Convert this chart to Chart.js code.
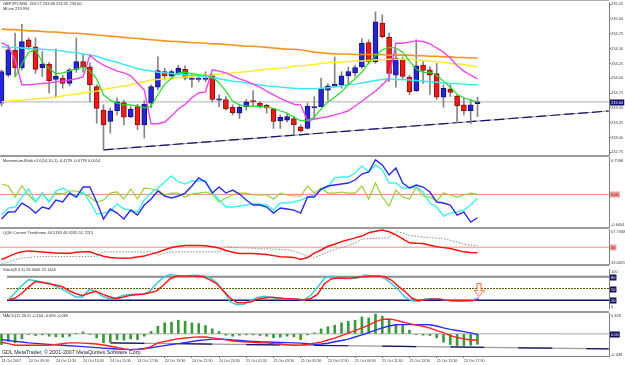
<!DOCTYPE html>
<html><head><meta charset="utf-8">
<script src="https://cdn.jsdelivr.net/npm/chart.js@4.4.1/dist/chart.umd.min.js"></script>
<style>
html,body{margin:0;padding:0;background:#fff;}
#wrap{position:relative;width:625px;height:365px;overflow:hidden;background:#fff;font-family:"Liberation Sans",Arial,sans-serif;}
canvas{position:absolute;left:0;}
.hdr{position:absolute;left:3px;font-size:4px;line-height:5px;color:#303030;white-space:nowrap;z-index:5;}
.sep{position:absolute;left:0;width:609px;height:2px;background:#9a9a9a;z-index:4;}
</style></head><body><div id="wrap">
<canvas id="cMain" width="625" height="161" style="top:-2px"></canvas>
<canvas id="cMom" width="625" height="78" style="top:153px"></canvas>
<canvas id="cQqe" width="625" height="43" style="top:225px"></canvas>
<canvas id="cSto" width="625" height="53" style="top:262px"></canvas>
<canvas id="cMacd" width="625" height="56" style="top:309px"></canvas>
<div class="sep" style="top:0px;height:1px;background:#b0b0b0"></div>
<div class="sep" style="top:155px"></div>
<div class="sep" style="top:227px"></div>
<div class="sep" style="top:264px"></div>
<div class="sep" style="top:311px"></div>
<div class="hdr" style="top:1px">GBPJPY,M30&nbsp; 233.57 233.68 233.35 233.60</div>
<div class="hdr" style="top:6px">MLine 233.994</div>
<div class="hdr" style="top:158px">Momentum-Multi v1.0(14,10,1) -0.4729 -0.0778 0.0014</div>
<div class="hdr" style="top:230px">QQE Current Timeframe 44.5183 46.9245 51.7213</div>
<div class="hdr" style="top:267px">Stoch(8,3,3) 26.3006 22.1455</div>
<div class="hdr" style="top:313px">MACD(12,26,9) -0.164 -0.096 -0.069</div>
<div class="hdr" style="top:349px;left:2px;font-size:5.3px;line-height:6px;color:#202040">GDL MetaTrader, © 2001-2007 MetaQuotes Software Corp.</div>
</div>
<script>
// ---------- DATA ----------
const timeLabels = ['24 Oct 2007','24 Oct 09:30','24 Oct 11:30','24 Oct 13:30','24 Oct 15:30','24 Oct 17:30','24 Oct 19:30','24 Oct 21:30','24 Oct 23:30','25 Oct 01:30','25 Oct 03:30','25 Oct 05:30','25 Oct 07:30','25 Oct 09:30','25 Oct 11:30','25 Oct 13:30','25 Oct 15:30','25 Oct 17:30'];

const open = [233.58,234.05,234.47,234.18,234.65,234.53,234.18,234.24,233.98,234.00,
233.91,234.15,234.28,234.19,233.86,233.46,233.27,233.45,233.59,233.35,
233.52,233.21,233.58,233.85,234.11,234.04,234.08,234.15,233.98,233.98,
233.98,234.04,233.63,233.64,233.51,233.41,233.52,233.62,233.58,233.54,
233.48,233.28,233.29,233.32,233.18,233.15,233.50,233.52,233.80,233.87,
233.89,234.04,234.09,234.19,234.60,234.28,234.93,234.69,234.05,234.32,
234.02,233.79,234.22,234.14,234.08,233.68,233.81,233.70,233.55,233.45,
233.57];
const close = [234.11,234.48,234.18,234.62,234.53,234.15,234.24,233.96,234.03,233.91,
234.14,234.28,234.19,233.89,233.49,233.21,233.45,233.60,233.34,233.48,
233.21,233.56,233.86,234.13,234.04,234.11,234.17,234.00,234.00,234.00,
234.00,233.64,233.65,233.48,233.42,233.51,233.60,233.60,233.52,233.50,
233.27,233.34,233.35,233.21,233.11,233.53,233.52,233.83,233.87,233.90,
234.04,234.11,234.18,234.59,234.28,234.95,234.70,234.08,234.34,234.03,
233.77,234.21,234.13,234.05,233.68,233.83,233.76,233.53,233.45,233.55,
233.60];
const high = [234.14,234.56,234.76,234.91,234.68,234.68,234.45,234.27,234.49,234.05,
234.17,234.68,234.39,234.26,233.89,233.55,233.50,233.67,233.63,233.53,
233.56,233.62,233.89,234.36,234.17,234.14,234.22,234.21,234.08,234.05,
234.11,234.07,233.72,233.69,233.55,233.55,233.64,233.79,233.60,233.56,
233.49,233.38,233.40,233.36,233.21,233.58,233.69,234.00,233.91,234.36,
234.11,234.19,234.22,234.67,234.65,235.12,235.07,234.76,234.48,234.36,
234.05,234.65,234.28,234.19,234.25,233.89,233.89,233.72,233.66,233.64,
233.68];
const low = [233.53,234.02,234.02,234.14,234.48,234.08,234.03,233.75,233.69,233.83,
233.87,234.10,234.10,233.60,233.24,232.79,233.07,233.38,233.21,233.33,
233.13,232.99,233.50,233.80,233.97,234.00,234.05,233.97,233.85,233.94,
233.94,233.60,233.52,233.46,233.38,233.32,233.46,233.52,233.50,233.41,
233.15,233.15,233.26,233.04,233.09,233.14,233.32,233.52,233.63,233.86,
233.83,233.89,234.03,234.17,234.24,234.25,234.68,233.94,233.85,233.97,
233.72,233.77,233.91,233.72,233.64,233.51,233.69,233.25,233.38,233.23,
233.35];

const maOrange = [234.83,234.82,234.82,234.81,234.80,234.80,234.79,234.78,234.78,234.77,
234.76,234.76,234.75,234.74,234.73,234.72,234.71,234.70,234.69,234.68,
234.67,234.66,234.65,234.64,234.63,234.62,234.62,234.61,234.60,234.60,
234.59,234.58,234.58,234.57,234.56,234.55,234.54,234.54,234.53,234.52,
234.51,234.50,234.49,234.49,234.48,234.46,234.44,234.43,234.42,234.41,
234.41,234.41,234.40,234.40,234.40,234.40,234.40,234.39,234.39,234.39,
234.39,234.38,234.38,234.37,234.37,234.36,234.36,234.35,234.35,234.34,
234.34];
const maYellow = [233.60,233.61,233.62,233.63,233.64,233.65,233.66,233.67,233.68,233.70,
233.72,233.73,233.75,233.77,233.78,233.81,233.83,233.85,233.87,233.89,
233.92,233.94,233.97,233.98,233.99,234.00,234.01,234.02,234.03,234.04,
234.05,234.06,234.07,234.08,234.09,234.10,234.11,234.12,234.14,234.15,
234.16,234.17,234.18,234.20,234.21,234.22,234.23,234.25,234.26,234.27,
234.27,234.28,234.29,234.29,234.30,234.31,234.31,234.32,234.32,234.32,
234.32,234.31,234.30,234.29,234.28,234.27,234.25,234.24,234.23,234.21,
234.19];
const maCyan = [234.53,234.52,234.52,234.51,234.50,234.49,234.49,234.48,234.47,234.46,
234.44,234.43,234.41,234.39,234.37,234.33,234.30,234.27,234.23,234.20,
234.16,234.14,234.12,234.10,234.09,234.08,234.07,234.06,234.05,234.04,
234.02,234.01,233.99,233.97,233.95,233.94,233.92,233.90,233.89,233.87,
233.86,233.85,233.84,233.83,233.82,233.82,233.82,233.83,233.84,233.85,
233.87,233.89,233.90,233.92,233.94,233.96,233.98,233.99,233.98,233.98,
233.97,233.96,233.95,233.94,233.93,233.92,233.91,233.91,233.90,233.89,
233.89];
const bandPink = [234.60,234.54,234.31,233.89,233.89,233.90,233.91,233.92,233.94,233.95,
233.97,233.99,234.02,234.39,234.29,234.22,234.17,234.12,234.09,234.04,
233.92,233.80,233.23,233.23,233.26,233.36,233.48,233.56,233.67,233.75,
233.77,234.14,234.12,234.09,234.04,233.99,233.95,233.90,233.85,233.78,
233.72,233.66,233.61,233.56,233.55,233.28,233.31,233.33,233.35,233.38,
233.41,233.45,233.53,233.61,233.70,233.78,233.89,234.00,234.59,234.59,
234.61,234.63,234.62,234.58,234.51,234.44,234.34,234.21,234.12,234.05,
233.99];
const maGreen = [null,null,234.02,234.24,234.44,234.48,234.27,234.17,234.07,234.09,
234.12,234.16,234.19,234.12,233.99,233.72,233.63,233.58,233.55,233.55,
233.53,233.50,233.53,233.72,233.90,234.00,234.09,234.10,234.08,234.06,
234.05,234.02,233.92,233.78,233.61,233.55,233.53,233.53,233.52,233.51,
233.49,233.45,233.41,233.34,233.28,233.29,233.34,233.48,233.60,233.68,
233.77,233.89,233.99,234.10,234.26,234.38,234.48,234.52,234.51,234.44,
234.29,234.15,234.10,234.10,234.05,233.95,233.85,233.73,233.67,233.63,
233.60];
const trendBar = [15, 89.3];
const trendPrice = [232.79, 233.446];

const momBlue = [-0.499,-0.357,-0.351,-0.175,-0.256,-0.378,-0.256,-0.296,-0.114,-0.154,
0.028,-0.053,0.150,0.150,-0.154,-0.499,-0.296,-0.378,-0.499,-0.317,
-0.418,-0.215,-0.093,0.069,-0.032,-0.073,-0.032,0.028,0.171,0.333,
0.252,0.028,0.150,0.028,0.089,0.008,-0.114,-0.215,-0.215,-0.256,
-0.378,-0.276,-0.296,-0.317,-0.378,-0.053,-0.053,0.110,0.171,0.191,
0.211,0.231,0.292,0.414,0.455,0.700,0.597,0.394,0.536,0.231,
0.130,0.191,0.150,0.049,-0.154,-0.175,-0.215,-0.418,-0.357,-0.560,
-0.473];
const momCyan = [-0.418,-0.276,-0.256,-0.053,0.110,-0.154,0.028,-0.154,0.069,0.130,
0.049,-0.053,0.049,-0.154,-0.398,-0.378,-0.337,-0.195,-0.296,-0.317,
-0.357,-0.114,0.028,0.130,0.252,0.374,0.252,0.211,0.272,0.272,
0.272,0.049,-0.114,-0.256,-0.256,-0.235,-0.215,-0.195,-0.195,-0.215,
-0.317,-0.175,-0.175,-0.154,-0.114,-0.053,-0.012,0.089,0.150,0.333,
0.353,0.353,0.434,0.577,0.455,0.597,0.495,0.231,0.231,0.130,
0.130,0.150,0.049,-0.175,-0.256,-0.438,-0.378,-0.357,-0.317,-0.215,
-0.078];
const momYG = [0.211,0.171,-0.053,0.171,-0.012,-0.154,0.028,-0.134,0.028,0.008,
0.069,0.069,0.028,-0.053,-0.154,-0.114,0.028,0.049,-0.093,0.110,
-0.093,0.130,0.110,0.089,-0.012,0.028,0.028,-0.053,0.008,0.028,
0.049,0.008,-0.154,-0.073,-0.012,0.028,0.028,-0.012,-0.012,-0.012,
-0.093,0.028,-0.012,-0.032,-0.032,0.171,0.028,0.130,0.028,0.028,
0.049,0.028,0.028,0.171,-0.093,0.231,-0.053,-0.235,0.089,-0.053,
-0.093,0.150,-0.032,-0.053,-0.134,0.028,-0.012,-0.053,-0.012,0.028,
0.001];
const momRange = [-0.6604, 0.7588];
const momLevels = [0];

const qqeRed = [37.94,40.82,43.70,45.63,46.40,45.82,45.34,44.86,44.38,43.99,
44.19,45.15,45.44,45.44,43.22,41.11,39.86,39.38,39.19,39.57,
40.53,41.49,43.22,45.15,47.55,49.76,50.92,51.59,51.59,51.59,
51.30,50.43,49.18,46.78,45.15,43.90,43.90,43.90,43.42,42.94,
41.78,40.63,40.34,40.05,38.13,39.86,44.19,47.26,50.92,52.84,
55.43,57.16,59.09,60.82,64.18,65.53,66.80,65.05,61.97,58.13,
54.28,53.80,53.51,51.88,50.34,49.57,48.70,47.07,45.44,44.86,
44.52];
const qqeGray = [33.61,35.53,37.94,39.38,39.86,40.63,40.82,40.82,40.82,40.82,
40.82,40.82,40.82,40.82,41.30,45.44,45.44,45.44,45.44,45.44,
45.44,45.44,45.44,42.26,44.19,45.15,45.44,45.44,45.44,45.44,
45.44,45.44,45.44,50.43,49.67,49.38,49.18,48.99,48.70,48.42,
48.13,47.84,47.45,46.11,43.90,41.30,39.86,42.26,45.44,47.55,
49.76,51.40,53.80,57.93,58.32,58.61,58.90,59.28,65.34,63.89,
61.49,60.72,59.86,59.28,58.80,58.32,56.68,55.05,52.84,51.88,
51.72];
const qqeRange = [33.6055, 67.7368];
const qqeLevels = [50];

const stoMain = [20.7,40.0,57.8,72.7,69.6,66.7,64.4,55.6,47.8,38.9,
28.2,28.2,46.7,42.9,30.0,24.4,25.6,31.8,34.4,35.6,
35.6,42.2,62.2,77.8,86.0,83.3,80.0,83.3,83.8,82.9,
77.8,64.4,43.3,15.6,8.2,9.6,18.9,26.7,30.4,27.3,
24.9,23.8,22.9,22.2,20.7,33.3,53.3,76.7,82.2,77.8,
75.6,75.6,76.7,84.4,82.2,82.2,75.6,62.2,46.7,27.8,
18.4,17.1,23.3,24.4,22.9,20.7,18.4,17.1,18.4,20.7,
26.3];
const stoSignal = [20.7,25.6,37.8,54.4,67.8,65.6,62.2,58.9,54.4,44.9,
36.7,32.2,37.8,42.9,35.6,28.9,24.4,27.8,31.8,33.8,
35.1,38.9,43.3,57.8,74.4,82.2,82.2,82.2,81.5,80.0,
72.2,62.2,43.3,25.6,13.3,13.3,15.6,22.7,25.6,27.8,
26.2,24.4,23.6,22.7,20.7,24.4,35.6,62.2,74.4,76.7,
76.2,77.1,78.9,80.0,82.2,82.2,80.0,71.1,55.6,42.2,
25.6,18.9,21.1,22.7,22.9,20.7,18.9,18.4,18.4,18.4,
22.1];
const stoRange = [0, 100];
const stoLevels = [80, 50, 20];
const stoArrow = {bar: 70, value: 46};

const macdHist = [-0.168,-0.115,-0.141,-0.079,-0.010,-0.026,-0.016,-0.037,-0.047,-0.052,
-0.037,0.005,0.031,-0.005,-0.063,-0.141,-0.131,-0.089,-0.100,-0.079,
-0.089,-0.037,0.037,0.120,0.173,0.183,0.215,0.199,0.173,0.162,
0.131,0.079,0.037,-0.021,-0.037,-0.021,-0.016,-0.016,-0.026,-0.037,
-0.063,-0.052,-0.037,-0.047,-0.089,-0.016,0.016,0.079,0.110,0.136,
0.173,0.199,0.215,0.267,0.251,0.310,0.278,0.215,0.147,0.131,
0.058,-0.010,-0.021,-0.026,-0.063,-0.131,-0.168,-0.183,-0.183,-0.178,
-0.164];
const macdRed = [-0.132,-0.153,-0.179,-0.179,-0.179,-0.179,-0.179,-0.179,-0.168,-0.153,
-0.142,-0.142,-0.145,-0.151,-0.160,-0.176,-0.195,-0.215,-0.236,-0.247,
-0.244,-0.236,-0.200,-0.142,-0.121,-0.097,-0.079,-0.066,-0.055,-0.047,
-0.050,-0.063,-0.079,-0.094,-0.113,-0.121,-0.129,-0.134,-0.140,-0.142,
-0.153,-0.160,-0.171,-0.179,-0.176,-0.168,-0.145,-0.129,-0.097,-0.066,
-0.027,0.013,0.052,0.094,0.138,0.193,0.228,0.233,0.217,0.186,
0.162,0.138,0.119,0.091,0.052,0.020,-0.027,-0.058,-0.079,-0.097,
-0.096];
const macdBlue = [-0.090,-0.105,-0.118,-0.129,-0.142,-0.149,-0.157,-0.165,-0.171,-0.179,
-0.187,-0.193,-0.201,-0.209,-0.217,-0.225,-0.231,-0.239,-0.244,-0.247,
-0.242,-0.231,-0.219,-0.200,-0.184,-0.168,-0.153,-0.137,-0.121,-0.105,
-0.094,-0.082,-0.079,-0.086,-0.097,-0.105,-0.112,-0.118,-0.124,-0.127,
-0.132,-0.135,-0.138,-0.142,-0.146,-0.156,-0.165,-0.160,-0.148,-0.124,
-0.104,-0.082,-0.050,-0.016,0.020,0.060,0.094,0.123,0.143,0.146,
0.146,0.146,0.146,0.143,0.123,0.094,0.071,0.052,0.036,0.016,
-0.010];
const macdRange = [-0.348, 0.328];
const macdLevels = [0];
const macdTrendBar = [16, 89.3];
const macdTrendVal = [-0.142, -0.236];

// ---------- HELPERS ----------
const X_MIN = -0.22, X_MAX = 89.34;
const FONT = '"Liberation Sans", Arial, sans-serif';
const idx = open.map((_, i) => i);
const pts = arr => arr.map((v, i) => ({x: i, y: v}));
const hline = v => [{x: X_MIN, y: v}, {x: X_MAX, y: v}];
const seg = (xs, ys) => xs.map((x, k) => ({x: x, y: ys[k]}));

const mtLabels = {
  id: 'mtLabels',
  afterDraw(chart, args, opts) {
    const items = opts.items || [];
    const {ctx, chartArea} = chart;
    const ys = chart.scales.y;
    ctx.save();
    ctx.font = '4px ' + FONT;
    ctx.textBaseline = 'middle';
    ctx.textAlign = 'left';
    for (const it of items) {
      const y = Math.round(ys.getPixelForValue(it.value) + (it.dy || 0)) + 0.5;
      const x = chartArea.right + 2;
      const w = ctx.measureText(it.text).width;
      if (it.box) { ctx.fillStyle = it.box; ctx.fillRect(x - 1, y - 3, w + 2, 6); }
      ctx.fillStyle = it.color || '#404040';
      ctx.fillText(it.text, x, y);
    }
    ctx.restore();
  }
};

function yAxis(range, extra) {
  return Object.assign({
    type: 'linear', position: 'right', min: range[0], max: range[1],
    afterFit(s) { s.width = 16; s.paddingTop = 0; s.paddingBottom = 0; },
    ticks: {display: false},
    grid: {drawOnChartArea: false, drawTicks: false},
    border: {display: true, color: '#808080', width: 1}
  }, extra || {});
}
const xHidden = {type: 'linear', min: X_MIN, max: X_MAX, display: false, offset: false};

function baseOptions(scales, padBottom, labels) {
  return {
    responsive: false, animation: false, events: [],
    layout: {padding: {top: 4, bottom: padBottom, left: 0, right: 0}},
    plugins: {legend: {display: false}, tooltip: {enabled: false}, title: {display: false}, mtLabels: {items: labels || []}},
    scales: scales
  };
}
const lineDs = (data, color, width, order, extra) => Object.assign({
  type: 'line', data: data, borderColor: color, backgroundColor: color, borderWidth: width,
  pointRadius: 0, tension: 0, fill: false, order: order, spanGaps: false
}, extra || {});

// ---------- MAIN ----------
const BULL = '#2626d6', BEAR = '#ea1c1c';
new Chart(document.getElementById('cMain'), {
  type: 'bar',
  data: {datasets: [
    lineDs(pts(maGreen), '#22dd22', 1.2, 1),
    lineDs(pts(bandPink), '#ee44ee', 1.4, 2),
    lineDs(pts(maCyan), '#3fe6f0', 1.5, 3),
    lineDs(pts(maYellow), '#ffec2a', 1.5, 3),
    lineDs(pts(maOrange), '#f7931e', 1.6, 3),
    {type: 'bar', data: idx.map(i => ({x: i, y: [open[i], close[i]]})), barThickness: 5, grouped: false,
     backgroundColor: c => close[c.dataIndex] >= open[c.dataIndex] ? BULL : BEAR,
     borderColor: c => close[c.dataIndex] >= open[c.dataIndex] ? '#101070' : '#8a0c0c',
     borderWidth: 1, borderSkipped: false, order: 5},
    {type: 'bar', data: idx.map(i => ({x: i, y: [low[i], high[i]]})), barThickness: 1, grouped: false,
     backgroundColor: '#858585', borderWidth: 0, order: 6},
    lineDs(seg(trendBar, trendPrice), '#141470', 1.2, 7, {borderDash: [10, 4]}),
    lineDs(seg(trendBar, trendPrice), '#a0a0a0', 1.2, 8),
    lineDs(hline(close[close.length - 1]), '#b0b0b0', 1, 9)
  ]},
  options: baseOptions({
    x: xHidden,
    y: yAxis([232.703, 235.287], {
      ticks: {display: true, stepSize: 0.25, includeBounds: false, padding: 0,
              font: {size: 4, family: FONT}, color: '#404040', callback: v => v.toFixed(2)},
      grid: {drawOnChartArea: false, drawTicks: true, tickLength: 2, color: '#808080'}
    })
  }, 4, [{value: close[close.length - 1], text: close[close.length - 1].toFixed(2), box: '#0c0c6a', color: '#ffffff'}]),
  plugins: [mtLabels]
});

// ---------- MOMENTUM ----------
new Chart(document.getElementById('cMom'), {
  type: 'line',
  data: {datasets: [
    lineDs(pts(momBlue), '#2b2be0', 1.4, 1),
    lineDs(pts(momCyan), '#3ff0f0', 1.4, 2),
    lineDs(pts(momYG), '#9acd32', 1.2, 3),
    lineDs(hline(momLevels[0]), '#ff8080', 1, 4)
  ]},
  options: baseOptions({x: xHidden, y: yAxis(momRange)}, 4, [
    {value: momRange[1], dy: 3, text: momRange[1].toFixed(4)},
    {value: momLevels[0], text: momLevels[0].toFixed(2), box: '#ff9a9a', color: '#303030'},
    {value: momRange[0], dy: -3, text: momRange[0].toFixed(4)}
  ]),
  plugins: [mtLabels]
});

// ---------- QQE ----------
new Chart(document.getElementById('cQqe'), {
  type: 'line',
  data: {datasets: [
    lineDs(pts(qqeRed), '#ff1010', 1.5, 1),
    lineDs(pts(qqeGray), '#8a8a8a', 1, 2, {borderDash: [1.5, 1.5]}),
    lineDs(hline(qqeLevels[0]), '#ff8a8a', 1, 3)
  ]},
  options: baseOptions({x: xHidden, y: yAxis(qqeRange)}, 4, [
    {value: qqeRange[1], dy: 2, text: qqeRange[1].toFixed(4)},
    {value: qqeLevels[0], text: String(qqeLevels[0]), box: '#ff9a9a', color: '#303030'},
    {value: qqeRange[0], dy: -2, text: qqeRange[0].toFixed(4)}
  ]),
  plugins: [mtLabels]
});

// ---------- STOCHASTIC ----------
function makeArrow() {
  const c = document.createElement('canvas'); c.width = 11; c.height = 14;
  const g = c.getContext('2d');
  g.strokeStyle = '#ff6a40'; g.fillStyle = '#fff4f0'; g.lineWidth = 1;
  g.beginPath();
  g.moveTo(3.5, 0.5); g.lineTo(7.5, 0.5); g.lineTo(7.5, 7.5); g.lineTo(10.5, 7.5);
  g.lineTo(5.5, 13.5); g.lineTo(0.5, 7.5); g.lineTo(3.5, 7.5); g.closePath();
  g.fill(); g.stroke();
  return c;
}
new Chart(document.getElementById('cSto'), {
  type: 'line',
  data: {datasets: [
    {type: 'line', data: [{x: stoArrow.bar, y: stoArrow.value}], showLine: false, pointStyle: makeArrow(), pointRadius: 6, order: 0},
    lineDs(pts(stoSignal), '#ff1a1a', 1.5, 1),
    lineDs(pts(stoMain), '#3cc8d2', 1.5, 2),
    lineDs(hline(stoLevels[0]), '#8c8c8c', 2, 3),
    lineDs(hline(stoLevels[1]), '#5c5c00', 1, 3, {borderDash: [2, 1]}),
    lineDs(hline(stoLevels[2]), '#10107a', 1.5, 3)
  ]},
  options: baseOptions({x: xHidden, y: yAxis(stoRange)}, 4, [
    {value: stoRange[1], dy: 2, text: String(stoRange[1])},
    {value: stoLevels[0], text: String(stoLevels[0]), box: '#10105a', color: '#ffffff'},
    {value: stoLevels[1], text: String(stoLevels[1]), box: '#10105a', color: '#ffffff'},
    {value: stoLevels[2], text: String(stoLevels[2]), box: '#10105a', color: '#ffffff'},
    {value: stoRange[0], dy: -2, text: String(stoRange[0])}
  ]),
  plugins: [mtLabels]
});

// ---------- MACD ----------
new Chart(document.getElementById('cMacd'), {
  type: 'bar',
  data: {datasets: [
    lineDs(pts(macdRed), '#ff2020', 1.4, 1),
    lineDs(pts(macdBlue), '#2a2aff', 1.4, 2),
    {type: 'bar', data: pts(macdHist), barThickness: 2, grouped: false, backgroundColor: '#3a9a3a', borderWidth: 0, order: 3},
    lineDs(hline(macdLevels[0]), '#a8a8a8', 1, 4),
    lineDs(seg(macdTrendBar, macdTrendVal), '#14146e', 1.2, 5, {borderDash: [34, 34]}),
    lineDs(seg(macdTrendBar, macdTrendVal), '#9a9a9a', 1.2, 6)
  ]},
  options: baseOptions({
    x: {type: 'linear', min: X_MIN, max: X_MAX, offset: false, position: 'bottom',
        afterBuildTicks(s) { s.ticks = timeLabels.map((_, k) => ({value: k * 4})); },
        afterFit(s) { s.height = 9; s.paddingLeft = 0; s.paddingRight = 0; },
        ticks: {autoSkip: false, maxRotation: 0, minRotation: 0, align: 'start', padding: 1,
                font: {size: 3.6, family: FONT}, color: '#404040', callback: (v, i) => timeLabels[i]},
        grid: {drawOnChartArea: false, drawTicks: true, tickLength: 2, color: '#808080', offset: false},
        border: {display: true, color: '#808080'}},
    y: yAxis(macdRange)
  }, 0, [
    {value: macdRange[1], dy: 2, text: macdRange[1].toFixed(3)},
    {value: macdLevels[0], text: macdLevels[0].toFixed(2), box: '#10105a', color: '#ffffff'},
    {value: macdRange[0], dy: -2, text: macdRange[0].toFixed(3)}
  ]),
  plugins: [mtLabels]
});
</script>
</body></html>
